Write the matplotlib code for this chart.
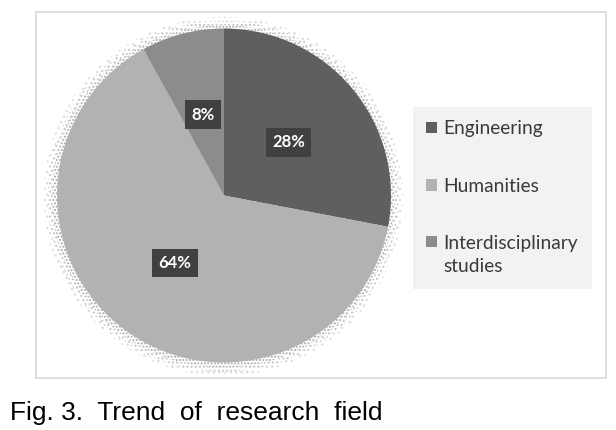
import matplotlib.pyplot as plt
from matplotlib.patches import Rectangle, Circle, Patch
from matplotlib.legend_handler import HandlerPatch

fields = ['Engineering', 'Humanities', 'Interdisciplinary\nstudies']
shares = [28, 64, 8]
colors = ['#5f5f5f', '#b2b2b2', '#8c8c8c']

W, H = 616, 430
fig = plt.figure(figsize=(W / 100, H / 100), dpi=100)
fig.patch.set_facecolor('white')

# outer chart frame
fig.add_artist(Rectangle((36 / W, 1 - 378 / H), 570 / W, 366 / H,
                         transform=fig.transFigure, fill=False,
                         edgecolor='#d9d9d9', lw=1.2))

# pie axes
cx, cy, r = 224, 195.5, 167
ax = fig.add_axes([(cx - r) / W, (H - cy - r) / H, 2 * r / W, 2 * r / H])

# stippled halo shadow, fading outward
for rad, col, hatch in [(1.075, '#dcdcdc', '...'), (1.05, '#c4c4c4', '....'),
                        (1.025, '#a8a8a8', '.....')]:
    ax.add_patch(Circle((-0.005, -0.005), rad, facecolor='white',
                        edgecolor=col, hatch=hatch, lw=0, zorder=0,
                        clip_on=False))

wedges, texts, autotexts = ax.pie(
    shares, colors=colors, startangle=90, counterclock=False,
    autopct='%d%%', pctdistance=0.50,
    wedgeprops=dict(linewidth=0),
    textprops=dict(color='white', fontsize=12, fontweight='bold', family='Lato'))
for t in autotexts:
    t.set_bbox(dict(facecolor='#404040', edgecolor='none', pad=4.5))
ax.set_xlim(-1, 1)
ax.set_ylim(-1, 1)
ax.set_aspect('equal')
ax.axis('off')


# put the square of a two-line entry next to its first line
def top_square(legend, orig_handle, xdescent, ydescent, width, height, fontsize):
    return Rectangle((-xdescent, -ydescent + 0.72 * fontsize), width, height)


handles = [Patch(facecolor=c, edgecolor='none') for c in colors]
leg = fig.legend(handles, fields, loc='upper left',
                 bbox_to_anchor=(413 / W, 1 - 107 / H),
                 prop=dict(family='Lato', size=13.8), labelcolor='#3a3a3a',
                 frameon=True, fancybox=False, handlelength=0.55,
                 handleheight=0.55, handletextpad=0.35, labelspacing=2.1,
                 borderpad=0.7, borderaxespad=0,
                 handler_map={handles[2]: HandlerPatch(patch_func=top_square)})
for t in leg.get_texts():
    t.set_linespacing(1.45)
leg.get_frame().set_facecolor('#f2f2f2')
leg.get_frame().set_edgecolor('none')
leg.get_frame().set_alpha(1)

fig.text(10 / W, 1 - 420 / H, 'Fig. 3.  Trend  of  research  field',
         family=['Liberation Sans', 'DejaVu Sans'],
         fontsize=19, color='black')

fig.savefig('out.png', dpi=100)
